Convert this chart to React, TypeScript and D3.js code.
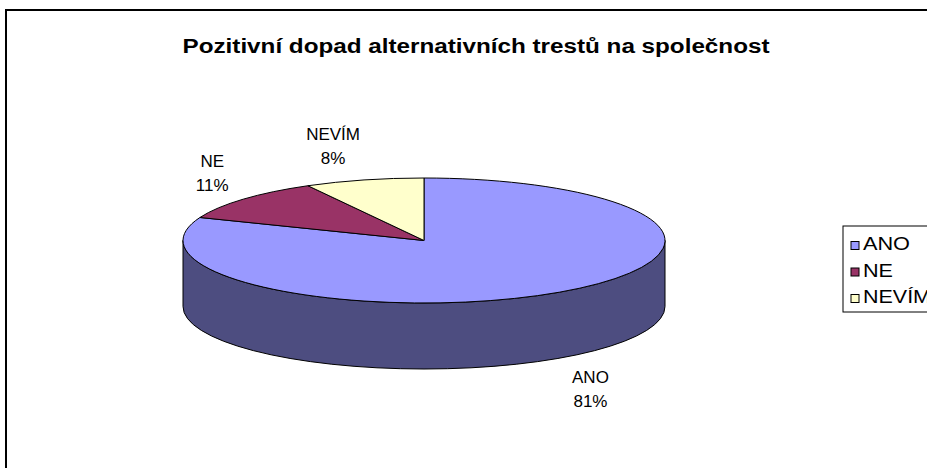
import React from "react";
import * as d3 from "d3";

const categories = ["ANO", "NE", "NEVÍM"];
const values = [81, 11, 8];
const topColors = ["#9999FF", "#993366", "#FFFFCC"];
const sideColors = ["#4D4D80", "#4D1A33", "#808066"];
const title = "Pozitivní dopad alternativních trestů na společnost";

const W = 927;
const H = 468;
const cx = 424;
const cy = 240.5;
const rx = 241;
const ry = 62.5;
const depth = 66;
const FONT = "Arial, 'Liberation Sans', sans-serif";

function pt(a: number, dy = 0): [number, number] {
  return [cx + rx * Math.sin(a), cy - ry * Math.cos(a) + dy];
}

function topPath(a0: number, a1: number) {
  const [x0, y0] = pt(a0);
  const [x1, y1] = pt(a1);
  const large = a1 - a0 > Math.PI ? 1 : 0;
  return `M${cx},${cy}L${x0},${y0}A${rx},${ry} 0 ${large} 1 ${x1},${y1}Z`;
}

function sidePath(a0: number, a1: number) {
  const s = Math.max(a0, Math.PI / 2);
  const e = Math.min(a1, (3 * Math.PI) / 2);
  if (e <= s) return null;
  const [x0, y0] = pt(s);
  const [x1, y1] = pt(e);
  const large = e - s > Math.PI ? 1 : 0;
  return `M${x0},${y0}A${rx},${ry} 0 ${large} 1 ${x1},${y1}L${x1},${y1 + depth}A${rx},${ry} 0 ${large} 0 ${x0},${y0 + depth}Z`;
}

export default function App() {
  const pie = d3
    .pie<number>()
    .sort(null)
    .startAngle(0)
    .endAngle(2 * Math.PI)(values);
  const total = d3.sum(values);
  const fmt = d3.format(".0%");

  return (
    <svg
      width={W}
      height={H}
      style={{ position: "absolute", left: 0, top: 0, background: "#fff" }}
    >
      <rect x={0} y={0} width={W} height={H} fill="#fff" />
      <rect x={6} y={10} width={W + 20} height={H + 20} fill="none" stroke="#000" strokeWidth={2} />
      <text
        x={476}
        y={53}
        textAnchor="middle"
        fontFamily={FONT}
        fontWeight="bold"
        fontSize={20}
        fill="#000"
        textLength={587}
        lengthAdjust="spacingAndGlyphs"
      >
        {title}
      </text>
      {pie.map((d, i) => {
        const sp = sidePath(d.startAngle, d.endAngle);
        return sp ? (
          <path key={"s" + i} d={sp} fill={sideColors[i]} stroke="#000" strokeWidth={1} />
        ) : null;
      })}
      {pie.map((d, i) => (
        <path
          key={"t" + i}
          d={topPath(d.startAngle, d.endAngle)}
          fill={topColors[i]}
          stroke="#000"
          strokeWidth={1}
          strokeLinejoin="round"
        />
      ))}
      {pie.map((d, i) => {
        const mid = (d.startAngle + d.endAngle) / 2;
        const front = Math.cos(mid) < 0;
        const [px, py] = pt(mid, front ? depth : 0);
        const off = 10 + 25 * Math.abs(Math.cos(mid));
        const lx = px + Math.sign(Math.sin(mid)) * 31;
        const ly = py + (front ? off : -off);
        return (
          <g key={"l" + i} fontFamily={FONT} fontSize={17} fill="#000" textAnchor="middle">
            <text x={lx} y={ly - 6}>{categories[i]}</text>
            <text x={lx} y={ly + 18}>{fmt(d.value / total)}</text>
          </g>
        );
      })}
      <rect x={843} y={226} width={100} height={86} fill="#fff" stroke="#000" strokeWidth={1} />
      {categories.map((c, i) => (
        <g key={"g" + i}>
          <rect x={851} y={241.5 + i * 26.5} width={8} height={8} fill={topColors[i]} stroke="#000" strokeWidth={1} />
          <text
            x={863}
            y={250 + i * 26.5}
            fontFamily={FONT}
            fontSize={18}
            fill="#000"
            textLength={c.length === 5 ? 68 : c.length === 3 ? 47 : 30}
            lengthAdjust="spacingAndGlyphs"
          >
            {c}
          </text>
        </g>
      ))}
    </svg>
  );
}
